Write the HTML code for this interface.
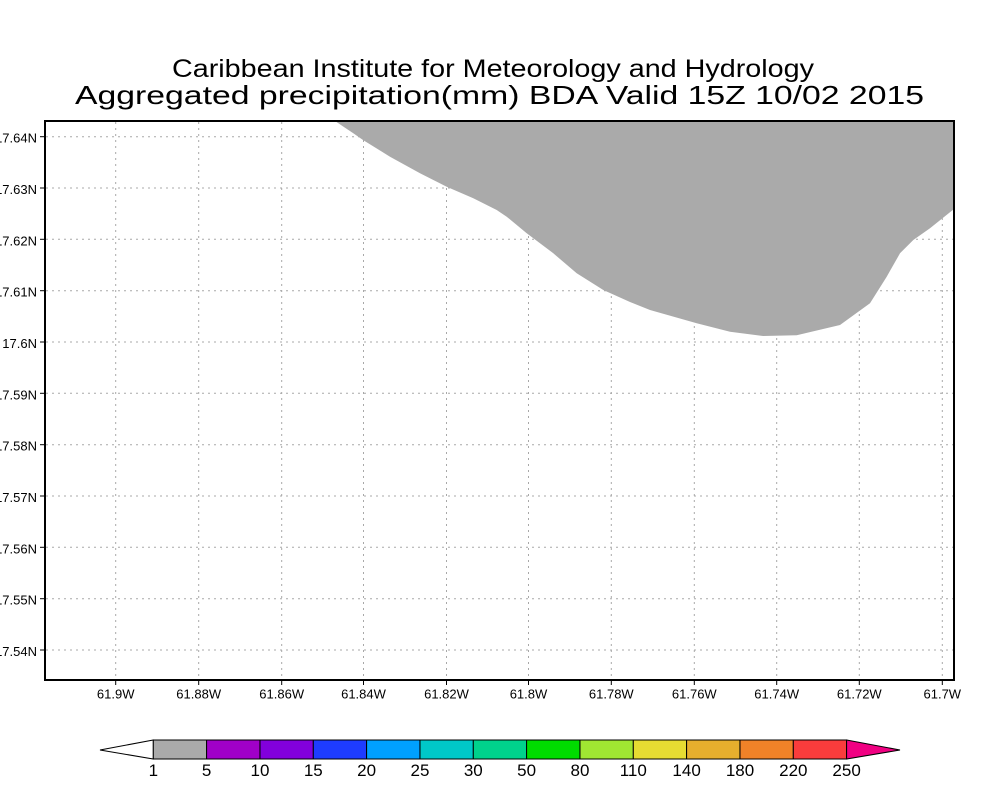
<!DOCTYPE html>
<html><head><meta charset="utf-8"><style>
html,body{margin:0;padding:0;background:#fff;}
svg{display:block;}
text{font-family:"Liberation Sans",sans-serif;fill:#000;}
</style></head><body>
<svg width="1000" height="800" viewBox="0 0 1000 800" xmlns="http://www.w3.org/2000/svg">
<rect width="1000" height="800" fill="#fff"/>
<text x="172" y="77" font-size="25" textLength="642" lengthAdjust="spacingAndGlyphs">Caribbean Institute for Meteorology and Hydrology</text>
<text x="75" y="104" font-size="26" textLength="849" lengthAdjust="spacingAndGlyphs">Aggregated precipitation(mm) BDA Valid 15Z 10/02 2015</text>
<g stroke="#a8a8a8" stroke-width="1" stroke-dasharray="2 4">
<line x1="115.7" y1="122" x2="115.7" y2="679"/>
<line x1="198.7" y1="122" x2="198.7" y2="679"/>
<line x1="281.7" y1="122" x2="281.7" y2="679"/>
<line x1="363.5" y1="122" x2="363.5" y2="679"/>
<line x1="446.5" y1="122" x2="446.5" y2="679"/>
<line x1="528.5" y1="122" x2="528.5" y2="679"/>
<line x1="611.3" y1="122" x2="611.3" y2="679"/>
<line x1="694.3" y1="122" x2="694.3" y2="679"/>
<line x1="776.7" y1="122" x2="776.7" y2="679"/>
<line x1="859.3" y1="122" x2="859.3" y2="679"/>
<line x1="942.3" y1="122" x2="942.3" y2="679"/>
<line x1="46" y1="136.7" x2="953" y2="136.7"/>
<line x1="46" y1="188" x2="953" y2="188"/>
<line x1="46" y1="239.3" x2="953" y2="239.3"/>
<line x1="46" y1="290.7" x2="953" y2="290.7"/>
<line x1="46" y1="342" x2="953" y2="342"/>
<line x1="46" y1="393.3" x2="953" y2="393.3"/>
<line x1="46" y1="444.7" x2="953" y2="444.7"/>
<line x1="46" y1="496" x2="953" y2="496"/>
<line x1="46" y1="547.3" x2="953" y2="547.3"/>
<line x1="46" y1="598.7" x2="953" y2="598.7"/>
<line x1="46" y1="650" x2="953" y2="650"/>
</g>
<polygon fill="#aaaaaa" points="335,121 353.3,133.3 363,140 390,156.7 420,173.3 446.7,186.7 473.3,198.3 496.7,210 506.7,216.7 526.7,233.3 553.3,253.3 576.7,273.3 603.3,290 630,302 650,310 696.7,323.3 730,331.7 763.3,336 796.7,335.3 840,325 870,303.3 886.7,276.7 900,253.3 913.3,240 930,228.3 954,209 954,121"/>
<rect x="45" y="121" width="909" height="559" fill="none" stroke="#000" stroke-width="2"/>
<g stroke="#000" stroke-width="1">
<line x1="40" y1="136.7" x2="45" y2="136.7"/>
<line x1="40" y1="188" x2="45" y2="188"/>
<line x1="40" y1="239.3" x2="45" y2="239.3"/>
<line x1="40" y1="290.7" x2="45" y2="290.7"/>
<line x1="40" y1="342" x2="45" y2="342"/>
<line x1="40" y1="393.3" x2="45" y2="393.3"/>
<line x1="40" y1="444.7" x2="45" y2="444.7"/>
<line x1="40" y1="496" x2="45" y2="496"/>
<line x1="40" y1="547.3" x2="45" y2="547.3"/>
<line x1="40" y1="598.7" x2="45" y2="598.7"/>
<line x1="40" y1="650" x2="45" y2="650"/>
<line x1="115.7" y1="680" x2="115.7" y2="685"/>
<line x1="198.7" y1="680" x2="198.7" y2="685"/>
<line x1="281.7" y1="680" x2="281.7" y2="685"/>
<line x1="363.5" y1="680" x2="363.5" y2="685"/>
<line x1="446.5" y1="680" x2="446.5" y2="685"/>
<line x1="528.5" y1="680" x2="528.5" y2="685"/>
<line x1="611.3" y1="680" x2="611.3" y2="685"/>
<line x1="694.3" y1="680" x2="694.3" y2="685"/>
<line x1="776.7" y1="680" x2="776.7" y2="685"/>
<line x1="859.3" y1="680" x2="859.3" y2="685"/>
<line x1="942.3" y1="680" x2="942.3" y2="685"/>
</g>
<g font-size="13" text-anchor="end">
<text x="37" y="142.7">17.64N</text>
<text x="37" y="194">17.63N</text>
<text x="37" y="245.3">17.62N</text>
<text x="37" y="296.7">17.61N</text>
<text x="37" y="348">17.6N</text>
<text x="37" y="399.3">17.59N</text>
<text x="37" y="450.7">17.58N</text>
<text x="37" y="502">17.57N</text>
<text x="37" y="553.3">17.56N</text>
<text x="37" y="604.7">17.55N</text>
<text x="37" y="656">17.54N</text>
</g>
<g font-size="13" text-anchor="middle">
<text x="115.7" y="698.5">61.9W</text>
<text x="198.7" y="698.5">61.88W</text>
<text x="281.7" y="698.5">61.86W</text>
<text x="363.5" y="698.5">61.84W</text>
<text x="446.5" y="698.5">61.82W</text>
<text x="528.5" y="698.5">61.8W</text>
<text x="611.3" y="698.5">61.78W</text>
<text x="694.3" y="698.5">61.76W</text>
<text x="776.7" y="698.5">61.74W</text>
<text x="859.3" y="698.5">61.72W</text>
<text x="942.3" y="698.5">61.7W</text>
</g>
<g stroke="#000" stroke-width="1">
<polygon points="100,750 153.3,740 153.3,759" fill="#fff"/>
<rect x="153.3" y="740" width="53.33" height="19" fill="#aaaaaa"/>
<rect x="206.6" y="740" width="53.33" height="19" fill="#a000c8"/>
<rect x="260" y="740" width="53.33" height="19" fill="#8200dc"/>
<rect x="313.3" y="740" width="53.33" height="19" fill="#1e3cff"/>
<rect x="366.6" y="740" width="53.33" height="19" fill="#00a0ff"/>
<rect x="420" y="740" width="53.33" height="19" fill="#00c8c8"/>
<rect x="473.3" y="740" width="53.33" height="19" fill="#00d28c"/>
<rect x="526.6" y="740" width="53.33" height="19" fill="#00dc00"/>
<rect x="580" y="740" width="53.33" height="19" fill="#a0e632"/>
<rect x="633.3" y="740" width="53.33" height="19" fill="#e6dc32"/>
<rect x="686.6" y="740" width="53.33" height="19" fill="#e6af2d"/>
<rect x="740" y="740" width="53.33" height="19" fill="#f08228"/>
<rect x="793.3" y="740" width="53.33" height="19" fill="#fa3c3c"/>
<polygon points="846.6,740 900,750 846.6,759" fill="#f00082"/>
</g>
<g font-size="17" text-anchor="middle">
<text x="153.3" y="776">1</text>
<text x="206.6" y="776">5</text>
<text x="260" y="776">10</text>
<text x="313.3" y="776">15</text>
<text x="366.6" y="776">20</text>
<text x="420" y="776">25</text>
<text x="473.3" y="776">30</text>
<text x="526.6" y="776">50</text>
<text x="580" y="776">80</text>
<text x="633.3" y="776">110</text>
<text x="686.6" y="776">140</text>
<text x="740" y="776">180</text>
<text x="793.3" y="776">220</text>
<text x="846.6" y="776">250</text>
</g>
</svg>
</body></html>
